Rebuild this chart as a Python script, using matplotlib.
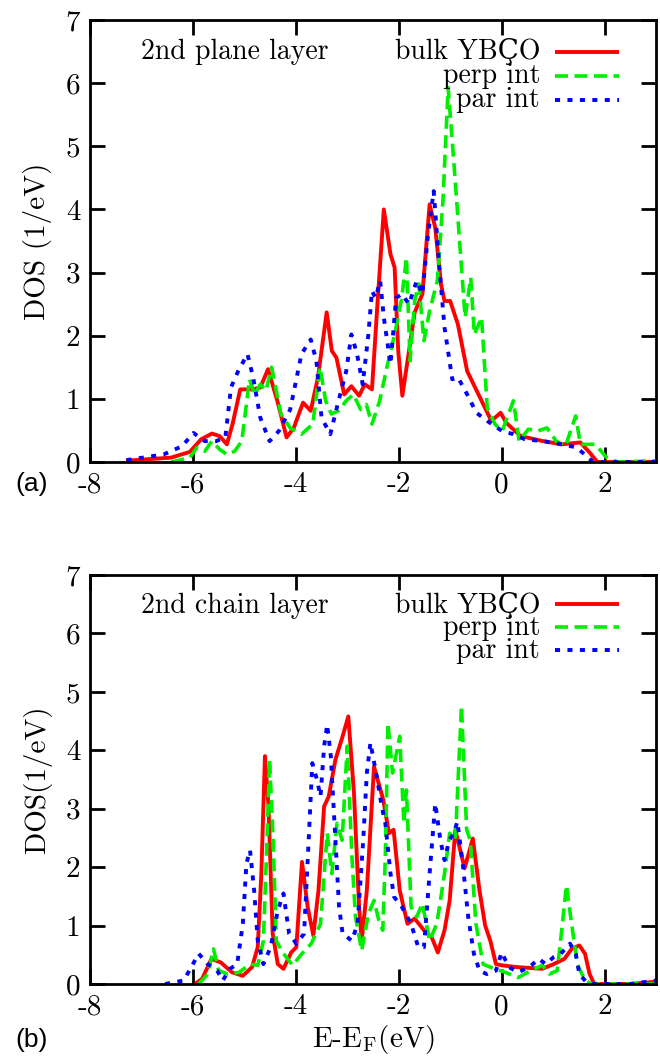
import matplotlib
matplotlib.use("Agg")
import matplotlib.pyplot as plt

plt.rcParams['font.family'] = ['cmr10', 'DejaVu Serif']
plt.rcParams['mathtext.fontset'] = 'cm'
plt.rcParams['axes.unicode_minus'] = False

# ---------------- data: panel (a) 2nd plane layer ----------------
top_bulk_E = [-7.3, -6.42, -6.06, -5.84, -5.63, -5.48, -5.34, -5.23, -5.08, -4.83, -4.69, -4.54, -4.36, -4.18,
              -4.04, -3.86, -3.71, -3.57, -3.40, -3.30, -3.21, -3.06, -2.92, -2.77, -2.66, -2.52, -2.41, -2.29,
              -2.16, -2.08, -2.01, -1.93, -1.80, -1.69, -1.54, -1.40, -1.29, -1.18, -1.11, -1.00, -0.85, -0.67,
              -0.42, -0.20, -0.02, 0.09, 0.37, 0.81, 1.17, 1.53, 1.71, 1.86, 3.0]
top_bulk_dos = [0.02, 0.07, 0.16, 0.36, 0.45, 0.41, 0.28, 0.60, 1.15, 1.15, 1.18, 1.47, 0.97, 0.39,
                0.54, 0.94, 0.81, 1.34, 2.37, 1.76, 1.65, 1.07, 1.20, 1.05, 1.23, 1.15, 2.55, 4.00,
                3.29, 3.08, 1.76, 1.05, 1.76, 2.37, 2.66, 4.08, 3.71, 2.82, 2.55, 2.55, 2.18, 1.44,
                1.02, 0.65, 0.78, 0.62, 0.41, 0.33, 0.28, 0.31, 0.15, 0.0, 0.0]

top_perp_E = [-6.42, -6.06, -5.92, -5.77, -5.63, -5.48, -5.34, -5.19, -5.05, -4.90, -4.80, -4.69, -4.58, -4.47,
              -4.29, -4.11, -3.89, -3.67, -3.53, -3.42, -3.31, -3.17, -3.02, -2.88, -2.74, -2.63, -2.52, -2.37,
              -2.23, -2.08, -1.94, -1.85, -1.78, -1.69, -1.61, -1.51, -1.40, -1.25, -1.14, -1.04, -0.96, -0.85,
              -0.71, -0.60, -0.53, -0.39, -0.28, -0.13, 0.01, 0.23, 0.34, 0.52, 0.70, 0.88, 1.06, 1.24, 1.44,
              1.53, 1.82, 2.04, 2.25, 3.0]
top_perp_dos = [0.0, 0.07, 0.23, 0.17, 0.33, 0.20, 0.12, 0.17, 0.33, 1.31, 1.07, 1.23, 1.13, 1.50,
                0.76, 0.54, 0.44, 0.60, 1.50, 0.97, 0.76, 0.81, 0.97, 1.07, 0.83, 0.91, 0.60, 0.97,
                1.50, 2.02, 2.60, 3.24, 1.60, 2.55, 2.82, 1.92, 2.39, 2.87, 4.14, 5.93, 5.09, 3.87,
                2.29, 2.92, 2.02, 2.29, 0.86, 0.60, 0.49, 0.97, 0.33, 0.52, 0.49, 0.54, 0.33, 0.25, 0.73,
                0.28, 0.28, 0.07, 0.0, 0.02]

top_par_E = [-7.29, -6.57, -6.21, -5.99, -5.77, -5.55, -5.37, -5.26, -5.12, -4.94, -4.83, -4.69, -4.51, -4.33,
             -4.11, -3.89, -3.71, -3.60, -3.50, -3.33, -3.17, -3.02, -2.92, -2.81, -2.70, -2.59, -2.52, -2.45,
             -2.36, -2.29, -2.16, -2.05, -1.94, -1.80, -1.65, -1.54, -1.43, -1.32, -1.21, -1.11, -0.96, -0.85,
             -0.67, -0.49, -0.28, 0.01, 0.23, 0.45, 0.81, 1.17, 1.46, 1.68, 1.78, 3.0]
top_par_dos = [0.03, 0.12, 0.25, 0.46, 0.33, 0.33, 0.39, 1.18, 1.44, 1.71, 1.34, 0.70, 0.33, 0.49,
               0.83, 1.71, 1.94, 1.60, 0.70, 0.44, 0.97, 1.44, 2.02, 1.71, 1.23, 2.02, 2.71, 2.60,
               2.87, 2.29, 1.55, 2.60, 2.66, 2.50, 2.87, 2.66, 3.61, 4.29, 3.08, 2.13, 1.31, 1.34,
               1.07, 0.78, 0.65, 0.49, 0.44, 0.36, 0.33, 0.28, 0.23, 0.07, 0.0, 0.0]

# ---------------- data: panel (b) 2nd chain layer ----------------
bot_bulk_E = [-5.96, -5.82, -5.64, -5.46, -5.24, -5.03, -4.85, -4.74, -4.67, -4.60, -4.53, -4.45, -4.35, -4.24,
              -4.09, -3.99, -3.88, -3.77, -3.66, -3.56, -3.45, -3.36, -3.23, -3.09, -2.98, -2.87, -2.77, -2.72,
              -2.62, -2.48, -2.30, -2.19, -2.10, -1.98, -1.83, -1.69, -1.51, -1.36, -1.24, -1.11, -1.01, -0.90,
              -0.72, -0.56, -0.43, -0.32, -0.22, -0.11, 0.0, 0.29, 0.79, 1.01, 1.22, 1.36, 1.51, 1.62, 1.71,
              1.80, 2.5, 3.0]
bot_bulk_dos = [0.0, 0.09, 0.43, 0.37, 0.20, 0.14, 0.29, 0.63, 1.89, 3.90, 3.04, 0.86, 0.34, 0.26,
                0.54, 0.63, 2.09, 1.32, 0.83, 1.60, 3.04, 3.21, 3.84, 4.24, 4.58, 3.27, 1.32, 0.74,
                1.60, 3.72, 3.15, 2.58, 2.64, 1.60, 1.03, 1.12, 0.92, 0.80, 0.54, 0.92, 1.43, 2.64,
                1.98, 2.49, 1.60, 1.00, 0.74, 0.34, 0.32, 0.29, 0.26, 0.34, 0.43, 0.60, 0.66, 0.52, 0.17,
                0.0, 0.0, 0.04]

bot_perp_E = [-5.89, -5.71, -5.60, -5.50, -5.32, -5.10, -4.89, -4.74, -4.63, -4.56, -4.51, -4.44, -4.38, -4.24,
              -4.06, -3.88, -3.70, -3.52, -3.39, -3.30, -3.20, -3.10, -3.00, -2.91, -2.84, -2.72, -2.59, -2.48,
              -2.37, -2.31, -2.26, -2.21, -2.12, -1.98, -1.90, -1.85, -1.76, -1.65, -1.54, -1.40, -1.26, -1.11,
              -1.01, -0.90, -0.78, -0.68, -0.61, -0.50, -0.36, -0.14, 0.07, 0.32, 0.57, 0.79, 0.93, 1.08, 1.16,
              1.26, 1.36, 1.47, 1.62, 1.76, 3.0]
bot_perp_dos = [0.0, 0.17, 0.60, 0.23, 0.17, 0.20, 0.34, 0.32, 0.74, 2.46, 3.84, 2.46, 0.74, 0.52,
                0.32, 0.52, 0.69, 1.03, 2.58, 1.89, 2.75, 2.46, 4.07, 2.18, 1.15, 0.57, 1.20, 1.43,
                1.03, 0.92, 2.18, 4.47, 3.61, 4.24, 2.75, 3.32, 1.32, 1.15, 1.38, 0.74, 1.03, 1.89,
                2.58, 2.46, 4.76, 2.64, 2.46, 1.03, 0.34, 0.26, 0.20, 0.11, 0.23, 0.32, 0.17, 0.23, 0.86,
                1.69, 1.03, 0.34, 0.06, 0.0, 0.0]

bot_par_E = [-6.54, -6.18, -6.03, -5.89, -5.71, -5.53, -5.42, -5.28, -5.14, -5.03, -4.96, -4.89, -4.81, -4.74,
             -4.63, -4.49, -4.35, -4.24, -4.13, -3.99, -3.84, -3.75, -3.68, -3.59, -3.52, -3.45, -3.39, -3.32,
             -3.23, -3.16, -3.09, -2.91, -2.80, -2.69, -2.62, -2.55, -2.44, -2.33, -2.26, -2.16, -2.09, -1.94,
             -1.76, -1.62, -1.51, -1.40, -1.29, -1.19, -1.11, -1.02, -0.93, -0.86, -0.75, -0.65, -0.54, -0.43,
             -0.29, -0.11, 0.0, 0.14, 0.32, 0.54, 0.72, 0.86, 1.01, 1.15, 1.33, 1.44, 1.51, 1.65, 1.76, 2.5, 3.0]
bot_par_dos = [0.0, 0.06, 0.29, 0.52, 0.34, 0.23, 0.06, 0.26, 0.34, 1.03, 2.06, 2.29, 1.60, 0.74,
               0.34, 0.63, 1.26, 1.55, 0.86, 0.69, 0.86, 2.46, 3.78, 3.50, 3.21, 4.07, 4.44, 3.90,
               2.46, 1.32, 0.86, 0.74, 1.03, 2.46, 3.61, 4.13, 3.61, 3.04, 2.75, 1.89, 1.49, 1.32,
               1.03, 0.63, 0.63, 1.89, 3.09, 2.46, 2.12, 2.46, 2.58, 2.78, 2.01, 1.15, 0.52, 0.23,
               0.17, 0.23, 0.54, 0.29, 0.20, 0.29, 0.43, 0.34, 0.46, 0.52, 0.69, 0.52, 0.17, 0.03, 0.0, 0.0, 0.06]

series_labels = ['bulk YBÇO', 'perp int', 'par int']
x_ticks = [-8, -6, -4, -2, 0, 2]
x_tick_labels = ['-8', '-6', '-4', '-2', '0', '2']
y_ticks = [0, 1, 2, 3, 4, 5, 6, 7]
y_tick_labels = ['0', '1', '2', '3', '4', '5', '6', '7']

W, H = 660, 1057
fig = plt.figure(figsize=(W / 100, H / 100), dpi=100)

def px_rect(l, t, r, b):
    return [l / W, 1 - b / H, (r - l) / W, (b - t) / H]

ax1 = fig.add_axes(px_rect(90, 20, 656, 462))
ax2 = fig.add_axes(px_rect(90, 575, 656, 984))

styles = [dict(color='#ff0000', lw=2.8, ls='-'),
          dict(color='#00ee00', lw=2.6, ls=(0, (3.6, 1.8))),
          dict(color='#0000ff', lw=2.8, ls=(0, (1.3, 1.9)))]

FS = 20

def setup(ax, data, title, ylabel, line_y, text_y, title_y):
    for (E, D), st in zip(data, styles):
        ax.plot(E, D, solid_capstyle='butt', dash_capstyle='butt', **st)
    ax.set_xlim(-8, 3)
    ax.set_ylim(0, 7)
    ax.set_xticks(x_ticks)
    ax.set_xticklabels(x_tick_labels)
    ax.set_yticks(y_ticks)
    ax.set_yticklabels(y_tick_labels)
    ax.tick_params(direction='in', top=True, right=True, length=11, width=2,
                   labelsize=21, pad=7)
    for s in ax.spines.values():
        s.set_linewidth(2)
    ax.set_ylabel(ylabel, fontsize=21, labelpad=10)
    ax.text(0.090, title_y, title, transform=ax.transAxes, fontsize=FS,
            ha='left', va='baseline')
    for lab, st, ly, ty in zip(series_labels, styles, line_y, text_y):
        ax.text(0.795, ty, lab, transform=ax.transAxes, fontsize=FS,
                ha='right', va='baseline')
        ax.plot([0.822, 0.935], [ly, ly], transform=ax.transAxes,
                solid_capstyle='butt', dash_capstyle='butt', **st)

setup(ax1, [(top_bulk_E, top_bulk_dos), (top_perp_E, top_perp_dos), (top_par_E, top_par_dos)],
      '2nd plane layer', 'DOS (1/eV)',
      [0.928, 0.873, 0.819], [0.912, 0.857, 0.803], 0.912)
setup(ax2, [(bot_bulk_E, bot_bulk_dos), (bot_perp_E, bot_perp_dos), (bot_par_E, bot_par_dos)],
      '2nd chain layer', 'DOS(1/eV)',
      [0.929, 0.873, 0.817], [0.907, 0.853, 0.797], 0.907)

ax2.set_xlabel(r'E-E$_{\rm F}$(eV)', fontsize=21, labelpad=2)

fig.text(32 / W, 1 - 484 / H, '(a)', family='Liberation Sans', fontsize=19,
         ha='center', va='center')
fig.text(32 / W, 1 - 1040 / H, '(b)', family='Liberation Sans', fontsize=19,
         ha='center', va='center')

fig.savefig('out.png', dpi=100)
